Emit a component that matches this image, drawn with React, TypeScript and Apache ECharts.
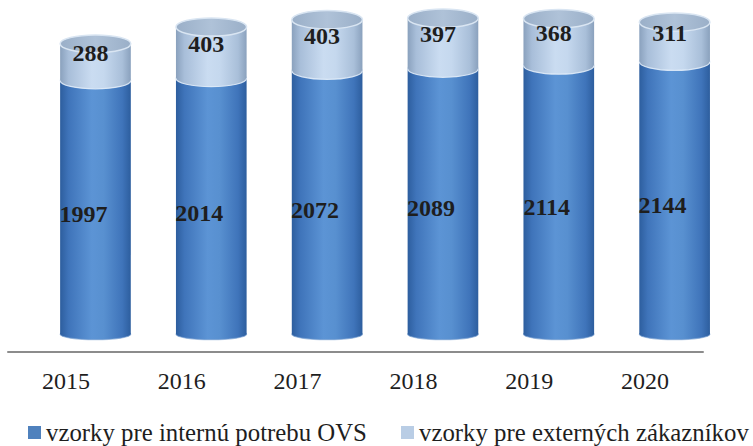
import React, { useEffect, useRef } from "react";
import * as echarts from "echarts";

const years = ["2015", "2016", "2017", "2018", "2019", "2020"];
const internal = [1997, 2014, 2072, 2089, 2114, 2144];
const external = [288, 403, 403, 397, 368, 311];
const seriesNames = ["vzorky pre internú potrebu OVS", "vzorky pre externých zákazníkov"];

const FONT = '"Liberation Serif", "Times New Roman", serif';

const blueGrad = {
  type: "linear", x: 0, y: 0, x2: 1, y2: 0,
  colorStops: [
    { offset: 0, color: "#2D5E9E" },
    { offset: 0.12, color: "#3F74BA" },
    { offset: 0.45, color: "#5C94D5" },
    { offset: 0.62, color: "#5890D0" },
    { offset: 0.88, color: "#3F74BA" },
    { offset: 1, color: "#2D5E9E" },
  ],
};
const lightGrad = {
  type: "linear", x: 0, y: 0, x2: 1, y2: 0,
  colorStops: [
    { offset: 0, color: "#8AA1BD" },
    { offset: 0.12, color: "#A8BED9" },
    { offset: 0.45, color: "#CADCF1" },
    { offset: 0.62, color: "#C5D8EE" },
    { offset: 0.88, color: "#A9BFD9" },
    { offset: 1, color: "#8AA1BD" },
  ],
};
const capGrad = {
  type: "linear", x: 0, y: 0, x2: 1, y2: 0,
  colorStops: [
    { offset: 0, color: "#9AAFC8" },
    { offset: 0.5, color: "#AFC2D8" },
    { offset: 1, color: "#9AAFC8" },
  ],
};

function makeRender(kind: "int" | "ext") {
  return (params: any, api: any) => {
    const i = api.value(0);
    const lo = api.value(1);
    const hi = api.value(2);
    const val = api.value(3);
    const pTop = api.coord([i, hi]);
    const pBot = api.coord([i, lo]);
    const band = api.size([1, 0])[0];
    const rx = band * 0.305;
    const cx = pTop[0] + band * 0.255;
    const yTop = pTop[1];
    const yBot = pBot[1];
    const ryAt = (y: number) => 5.5 + (3.5 * (333 - y)) / 300;
    const grad = kind === "int" ? blueGrad : lightGrad;
    const children: any[] = [];
    children.push({
      type: "ellipse",
      shape: { cx, cy: yBot, rx, ry: ryAt(yBot) },
      style: {
        fill: grad,
        stroke: kind === "ext" ? "rgba(225,236,248,0.9)" : "rgba(120,160,210,0.6)",
        lineWidth: 1.2,
      },
    });
    children.push({
      type: "rect",
      shape: { x: cx - rx, y: yTop, width: rx * 2, height: yBot - yTop },
      style: { fill: grad },
    });
    if (kind === "ext") {
      children.push({
        type: "ellipse",
        shape: { cx, cy: yTop, rx, ry: ryAt(yTop) },
        style: { fill: capGrad, stroke: "#D9E5F2", lineWidth: 1.5 },
      });
    }
    const mid = (yTop + yBot) / 2;
    children.push({
      type: "text",
      style: {
        text: String(val),
        x: kind === "int" ? cx - 12 : cx - 5,
        y: kind === "int" ? mid + 7 : mid - 9,
        fill: "#1E1E1E",
        fontSize: 24,
        fontWeight: "bold",
        fontFamily: FONT,
        align: "center",
        verticalAlign: "middle",
      },
    });
    return { type: "group", children };
  };
}

const legendBase = {
  orient: "horizontal",
  top: 420,
  icon: "rect",
  itemWidth: 13,
  itemHeight: 13,
  padding: 0,
  textStyle: { fontSize: 24.8, lineHeight: 22, fontFamily: FONT, color: "#1E1E1E" },
};

export default function App() {
  const ref = useRef<HTMLDivElement>(null);
  useEffect(() => {
    if (!ref.current) return;
    const chart = echarts.init(ref.current, null, { renderer: "svg" });
    chart.setOption({
      animation: false,
      backgroundColor: "#ffffff",
      grid: { left: 8, right: 50, top: 19, bottom: 94, containLabel: false },
      xAxis: {
        type: "category",
        data: years,
        axisLine: { show: true, onZero: false, lineStyle: { color: "#8C8C8C", width: 2 } },
        axisTick: { show: false },
        axisLabel: { color: "#1E1E1E", fontSize: 24, fontFamily: FONT, margin: 17 },
        splitLine: { show: false },
      },
      yAxis: {
        type: "value",
        min: -140,
        max: 2480,
        show: false,
        splitLine: { show: false },
      },
      legend: [
        { ...legendBase, data: [seriesNames[0]], left: 28 },
        { ...legendBase, data: [seriesNames[1]], left: 401 },
      ],
      series: [
        {
          name: seriesNames[0],
          type: "custom",
          renderItem: makeRender("int"),
          itemStyle: { color: "#4F81BD" },
          encode: { x: 0, y: [1, 2] },
          data: internal.map((v, i) => [i, 0, v, v]),
          z: 2,
        },
        {
          name: seriesNames[1],
          type: "custom",
          renderItem: makeRender("ext"),
          itemStyle: { color: "#B9CDE5" },
          encode: { x: 0, y: [1, 2] },
          data: external.map((v, i) => [i, internal[i], internal[i] + v, v]),
          z: 3,
        },
      ],
    });
    return () => chart.dispose();
  }, []);
  return (
    <div
      ref={ref}
      style={{ position: "fixed", left: 0, top: 0, width: 753, height: 446, background: "#fff" }}
    />
  );
}
